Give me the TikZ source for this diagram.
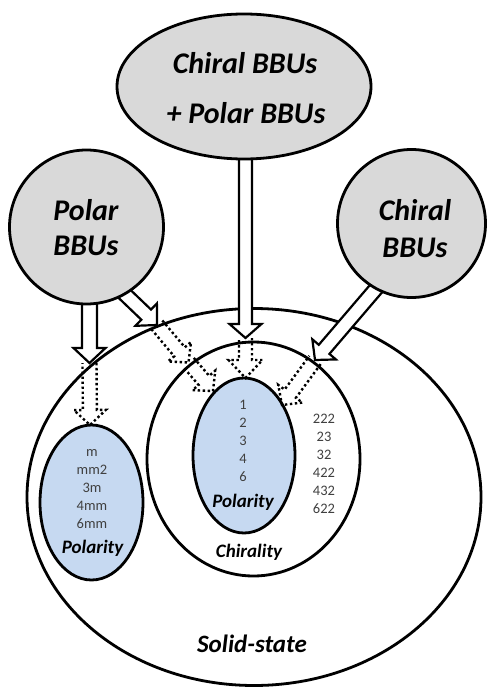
\documentclass[tikz,border=0pt]{standalone}
\usepackage{fontspec}
\setmainfont{Carlito}
\usetikzlibrary{shapes.geometric,calc}
\pgfdeclarelayer{front}
\pgfsetlayers{main,front}
\definecolor{bbugray}{HTML}{D9D9D9}
\definecolor{polblue}{HTML}{C6D9F1}
\definecolor{numgray}{HTML}{404040}
% #1 style, #2 start, #3 tip, #4 shaft half width, #5 head half width, #6 head length, #7 path end
\newcommand\blockarrow[7][]{%
  \coordinate (bah) at ($(#3)!#6pt!(#2)$);
  \path[#1] ($(#2)!#4pt!90:(#3)$) -- ($(bah)!#4pt!90:(#3)$) -- ($(bah)!#5pt!90:(#3)$) -- (#3)
    -- ($(bah)!#5pt!-90:(#3)$) -- ($(bah)!#4pt!-90:(#3)$) -- ($(#2)!#4pt!-90:(#3)$) #7;
}
\begin{document}
\begin{tikzpicture}[x=1pt,y=-1pt,
  region/.style={ellipse, draw, line width=2.8pt, inner sep=0pt},
  bbu/.style={draw, line width=2.8pt, fill=bbugray, inner sep=0pt},
  title/.style={font=\fontsize{30}{36}\selectfont\bfseries\itshape, anchor=base, inner sep=0pt},
  lab/.style={font=\fontsize{19}{22}\selectfont\bfseries\itshape, anchor=base, inner sep=0pt},
  biglab/.style={font=\fontsize{25}{30}\selectfont\bfseries\itshape, anchor=base, inner sep=0pt},
  num/.style={font=\fontsize{14.5}{18}\selectfont, text=numgray, anchor=base, inner sep=0pt},
  solidarrow/.style={draw, fill=white, line width=2.2pt, line join=miter},
  dotarrow/.style={draw, line width=2.4pt, dash pattern=on 2.4pt off 2.6pt}]
\useasboundingbox (0,0) rectangle (488,687);

% regions
\node[region, fill=white, minimum width=454, minimum height=377] (solid) at (254,497) {};
\node[region, fill=white, minimum width=213, minimum height=234] (chiral) at (253.5,459) {};
\node[region, fill=polblue, minimum width=102, minimum height=155] (polR) at (244,455.5) {};
\node[region, fill=polblue, minimum width=103, minimum height=155] (polL) at (91.5,502.5) {};

% source nodes (drawn above the arrows)
\begin{pgfonlayer}{front}
\node[bbu, ellipse, minimum width=254, minimum height=145] (both) at (244,86.5) {};
\node[bbu, circle, minimum size=154] (polar) at (86.5,227) {};
\node[bbu, circle, minimum size=148] (chiralbbu) at (411.5,223.5) {};
\node[title] (tboth1) at (245,74) {Chiral BBUs};
\node[title] (tboth2) at (246,124) {+ Polar BBUs};
\node[title] (tpolar1) at (86,220) {Polar};
\node[title] (tpolar2) at (86,255) {BBUs};
\node[title] (tchiral1) at (415,220) {Chiral};
\node[title] (tchiral2) at (415,257) {BBUs};
\end{pgfonlayer}

% arrow end points
\coordinate (s1) at (89.5,280);   \coordinate (t1) at (89.5,363);
\coordinate (s2) at (113.8,283.6); \coordinate (t2) at (157,325);
\coordinate (s3) at (245.5,150);  \coordinate (t3) at (245.5,338);
\coordinate (s4) at (386.5,276.4); \coordinate (t4) at (315,360);
\coordinate (u1) at (90,425);
\coordinate (u2) at (188.5,362.5);
\coordinate (u3) at (213,391);
\coordinate (u4) at (245.5,378);
\coordinate (u5) at (282,405);

% solid block arrows
\blockarrow[solidarrow]{s1}{t1}{7.5}{16}{15}{-- cycle}
\blockarrow[solidarrow]{s2}{t2}{7}{15.5}{15}{-- cycle}
\blockarrow[solidarrow]{s3}{t3}{6.5}{16}{14}{-- cycle}
\blockarrow[solidarrow]{s4}{t4}{7}{15.5}{14}{-- cycle}

% dotted block arrows
\blockarrow[dotarrow]{t1}{u1}{7}{16}{15}{}
\blockarrow[dotarrow]{t2}{u2}{7}{15}{14}{}
\blockarrow[dotarrow]{u2}{u3}{7}{15}{14}{}
\blockarrow[dotarrow]{t3}{u4}{6.5}{17}{18}{}
\blockarrow[dotarrow]{t4}{u5}{7}{15}{14}{}

% labels
\foreach \t [count=\i] in {m,mm2,3m,4mm,6mm}
  \node[num] (nl\i) at (92,{456+18.2*(\i-1)}) {\t};
\foreach \t [count=\i] in {1,2,3,4,6}
  \node[num] (nr\i) at (243,{409.3+18.1*(\i-1)}) {\t};
\foreach \t [count=\i] in {222,23,32,422,432,622}
  \node[num] (nc\i) at (324,{423.3+18*(\i-1)}) {\t};
\node[lab] (lpolL) at (92.5,553) {Polarity};
\node[lab] (lpolR) at (243,507) {Polarity};
\node[lab] (lchir) at (249,557) {Chirality};
\node[biglab] (lsolid) at (252,652) {Solid-state};
\end{tikzpicture}
\end{document}
